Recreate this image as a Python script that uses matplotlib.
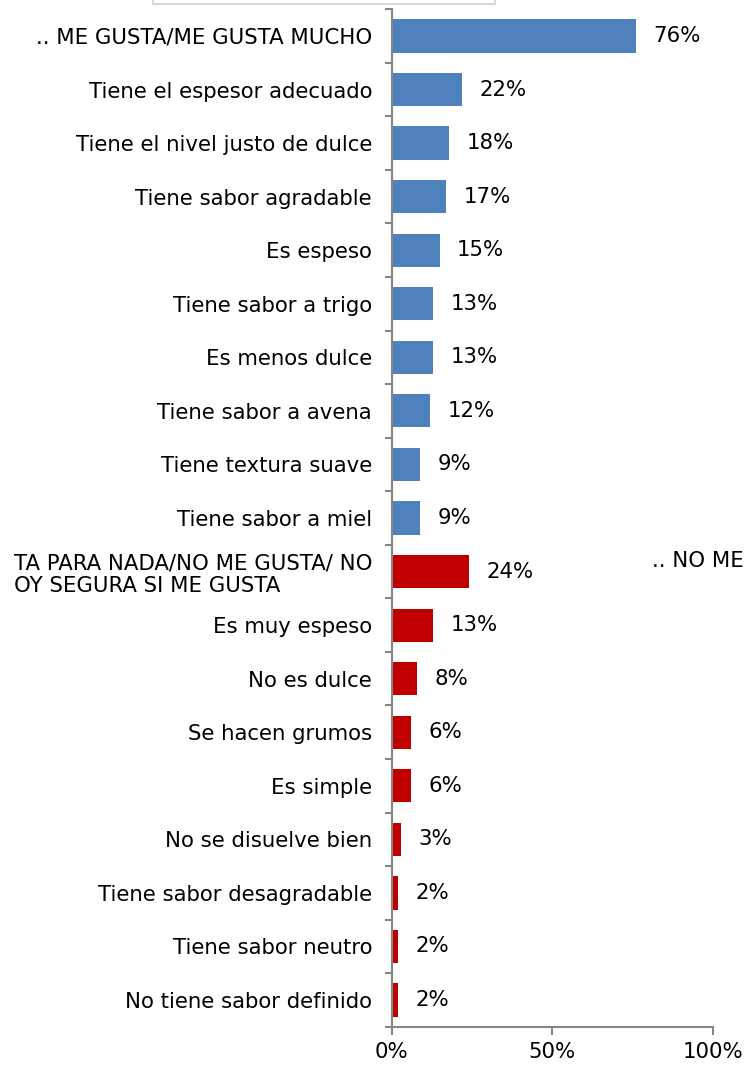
import matplotlib
matplotlib.use("Agg")
import matplotlib.pyplot as plt
from matplotlib.patches import Rectangle

categories = [
    ".. ME GUSTA/ME GUSTA MUCHO",
    "Tiene el espesor adecuado",
    "Tiene el nivel justo de dulce",
    "Tiene sabor agradable",
    "Es espeso",
    "Tiene sabor a trigo",
    "Es menos dulce",
    "Tiene sabor a avena",
    "Tiene textura suave",
    "Tiene sabor a miel",
    "TA PARA NADA/NO ME GUSTA/ NO\nOY SEGURA SI ME GUSTA",
    "Es muy espeso",
    "No es dulce",
    "Se hacen grumos",
    "Es simple",
    "No se disuelve bien",
    "Tiene sabor desagradable",
    "Tiene sabor neutro",
    "No tiene sabor definido",
]
values = [76, 22, 18, 17, 15, 13, 13, 12, 9, 9, 24, 13, 8, 6, 6, 3, 2, 2, 2]
groups = ["pos"] * 10 + ["neg"] * 9
group_colors = {"pos": "#4F81BD", "neg": "#C00000"}
x_ticks = [0, 50, 100]
x_ticklabels = ["0%", "50%", "100%"]
right_note = ".. NO ME"

W, H = 744, 1073
fig = plt.figure(figsize=(W / 100, H / 100), dpi=100)
left_px, right_px, top_px, bottom_px = 391.5, 713, 9.2, 1026.8
ax = fig.add_axes([left_px / W, 1 - bottom_px / H,
                   (right_px - left_px) / W, (bottom_px - top_px) / H])

n = len(categories)
ypos = list(range(n))
colors = [group_colors[g] for g in groups]
ax.barh(ypos, values, height=0.62, color=colors, zorder=2)

ax.set_xlim(0, 100)
ax.set_ylim(n - 0.5, -0.5)

spine_col = "#868686"
for s in ["top", "right"]:
    ax.spines[s].set_visible(False)
for s in ["left", "bottom"]:
    ax.spines[s].set_color(spine_col)
    ax.spines[s].set_linewidth(1.5)

fs = 15.3
ax.set_yticks(ypos)
ax.set_yticklabels(categories, fontsize=fs, color="black", linespacing=1.15)
ax.set_yticks([i - 0.5 for i in range(n + 1)], minor=True)
ax.tick_params(axis="y", which="major", length=0, pad=14)
ax.tick_params(axis="y", which="minor", length=5, width=1.5, color=spine_col)
for lab in ax.get_yticklabels():
    if "\n" in lab.get_text():
        lab.set_multialignment("left")

ax.set_xticks(x_ticks)
ax.set_xticklabels(x_ticklabels, fontsize=fs)
ax.tick_params(axis="x", length=6, width=1.5, color=spine_col, pad=5)

for y, v in zip(ypos, values):
    ax.annotate(f"{v}%", xy=(v, y), xytext=(12.5, 0), textcoords="offset points",
                va="center", ha="left", fontsize=fs, color="black")

ax.text(81, 9.8, right_note, fontsize=fs, va="center", ha="left", clip_on=False)

# partially visible box at the top
fig.patches.append(Rectangle((153 / W, 1 - 4 / H), (495 - 153) / W, 20 / H,
                             transform=fig.transFigure, facecolor="white",
                             edgecolor="#d9d9d9", linewidth=1.5, zorder=5))

fig.savefig("out.png", dpi=100)
